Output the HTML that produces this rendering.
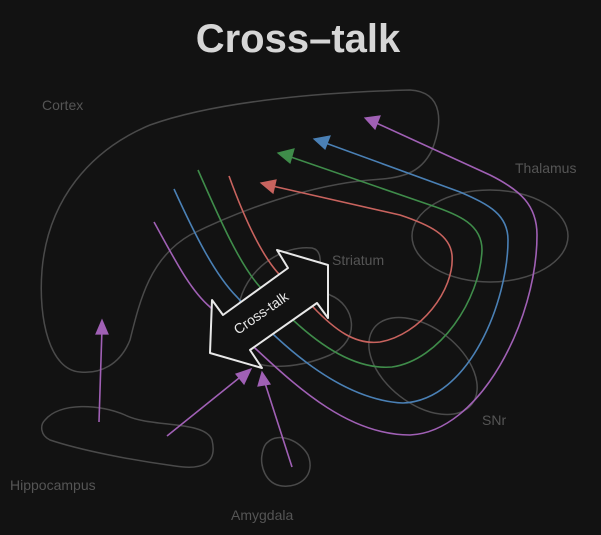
<!DOCTYPE html>
<html><head><meta charset="utf-8"><style>
html,body{margin:0;padding:0;background:#121212;}
svg{display:block}
text{font-family:"Liberation Sans",sans-serif;}
</style></head><body>
<svg width="601" height="535" viewBox="0 0 601 535" xmlns="http://www.w3.org/2000/svg">
<rect width="601" height="535" fill="#121212"/>
<text x="298" y="52" text-anchor="middle" font-size="40" font-weight="bold" fill="#d6d6d6">Cross–talk</text>
<g fill="none" stroke="#4a4a4a" stroke-width="1.5">
<path d="M80,372 C50,370 38,320 42,270 C48,200 90,150 150,125 C220,100 330,92 410,90 C445,92 442,125 432,150 C420,175 400,178 370,180 C310,185 240,210 190,235 C150,258 140,300 130,340 C120,365 100,374 80,372 Z"/>
<ellipse cx="490" cy="236" rx="78" ry="46"/>
<ellipse cx="423" cy="366" rx="62" ry="38" transform="rotate(38 423 366)"/>
<path d="M240,300 C250,265 285,245 312,248 C330,252 310,285 330,295 C355,305 362,340 330,355 C300,368 265,370 250,360 C235,345 235,320 240,300 Z"/>
<path d="M45,420 C60,402 100,404 125,415 C150,428 205,420 212,440 C218,465 200,470 175,466 C130,460 80,450 50,440 C40,435 40,425 45,420 Z"/>
<path d="M268,442 C278,432 300,440 308,455 C316,475 300,488 282,486 C265,484 260,465 262,455 C263,448 265,444 268,442 Z"/>
</g>
<g fill="none" stroke-width="1.6">
<path d="M229,176 C245,220 262,255 278,273 L313,307 C335,330 355,345 380,342 C420,335 455,290 452,255 C450,235 430,225 400,215 L268,185" stroke="#c8635e"/>
<path d="M198,170 C220,220 240,265 260,287 L293,320 C320,345 355,370 392,367 C440,360 480,300 482,250 C482,225 460,215 430,205 L285,155" stroke="#3f8c4a"/>
<path d="M174,189 C195,235 215,275 237,297 C280,345 340,400 403,403 C470,400 508,300 508,240 C508,215 490,205 460,192 L320,141" stroke="#4a80b5"/>
<path d="M154,222 C175,260 190,290 210,307 L257,350 C300,390 350,435 410,435 C480,432 537,320 537,235 C537,205 520,190 490,175 L372,121" stroke="#a060b5"/>
<path d="M99,422 L102,328 M167,436 L244,374 M292,467 L264,380" stroke="#a060b5"/>
</g>
<g stroke-width="1.2">
<polygon points="261,183 276,180 273,193" fill="#c8635e" stroke="#c8635e"/>
<polygon points="278,153 294,149 290,163" fill="#3f8c4a" stroke="#3f8c4a"/>
<polygon points="314,139 330,136 325,149" fill="#4a80b5" stroke="#4a80b5"/>
<polygon points="365,118 380,116 375,129" fill="#a060b5" stroke="#a060b5"/>
<polygon points="102,320 96,334 108,334" fill="#a060b5" stroke="#a060b5"/>
<polygon points="251,369 236,374 244,384" fill="#a060b5" stroke="#a060b5"/>
<polygon points="262,372 258,386 270,384" fill="#a060b5" stroke="#a060b5"/>
</g>
<polygon points="277,250 288,268 223,315 212,300 210,353 262,368 250,350 317,303 328,318 328,265" fill="#121212" stroke="#e8e8e8" stroke-width="2" stroke-linejoin="round"/>
<text x="0" y="0" font-size="14" fill="#e8e8e8" transform="translate(238,335) rotate(-35)">Cross-talk</text>
<g font-size="14" fill="#555">
<text x="42" y="110">Cortex</text>
<text x="515" y="173">Thalamus</text>
<text x="332" y="265">Striatum</text>
<text x="482" y="425">SNr</text>
<text x="10" y="490">Hippocampus</text>
<text x="231" y="520">Amygdala</text>
</g>
</svg>
</body></html>
